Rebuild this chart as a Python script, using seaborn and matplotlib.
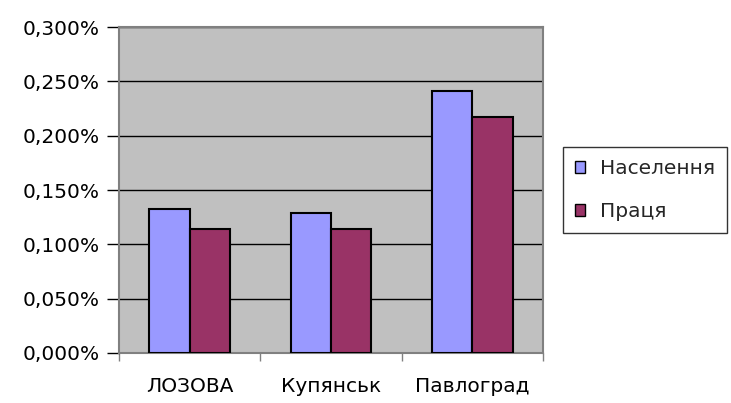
import matplotlib
matplotlib.use("Agg")
import matplotlib.pyplot as plt
import seaborn as sns
import pandas as pd
from matplotlib.ticker import FuncFormatter, FixedLocator

categories = ["ЛОЗОВА", "Купянськ", "Павлоград"]
series_names = ["Населення", "Праця"]
naselennia = [0.1322, 0.1288, 0.2408]
pratsia = [0.1138, 0.1138, 0.2169]
colors = ["#9999FF", "#993366"]

df = pd.DataFrame({
    "city": categories * 2,
    "series": [series_names[0]] * 3 + [series_names[1]] * 3,
    "value": naselennia + pratsia,
})

sns.set_style("white")
plt.rcParams["font.family"] = ["DejaVu Sans"]
FS = 14.5

fig = plt.figure(figsize=(7.31, 4.03), dpi=100)
ax = fig.add_axes([119 / 731, 1 - 353 / 403, (543 - 119) / 731, (353 - 27) / 403])
ax.set_facecolor("#C0C0C0")

sns.barplot(data=df, x="city", y="value", hue="series", palette=colors,
            saturation=1, width=2 / 3.5, edgecolor="black", linewidth=1.5,
            ax=ax, zorder=3, legend=True)

ax.set_ylim(0, 0.3)
ax.set_xlim(-0.5, 2.5)
ax.set_yticks([0, 0.05, 0.1, 0.15, 0.2, 0.25, 0.3])
ax.yaxis.set_major_formatter(FuncFormatter(lambda v, p: f"{v:.3f}%".replace(".", ",")))
ax.grid(axis="y", color="black", linewidth=1, zorder=0)
ax.set_axisbelow(True)
ax.set_xlabel("")
ax.set_ylabel("")

for s in ["top", "right", "left", "bottom"]:
    ax.spines[s].set_color("#808080")
    ax.spines[s].set_linewidth(1.5)

ax.tick_params(axis="y", which="major", direction="out", length=9, width=1,
               color="black", labelsize=FS, pad=5, left=True, labelcolor="black")
ax.tick_params(axis="x", which="major", length=0, labelsize=FS, pad=17,
               labelcolor="black")
ax.xaxis.set_minor_locator(FixedLocator([-0.5, 0.5, 1.5, 2.5]))
ax.tick_params(axis="x", which="minor", direction="out", length=6, width=1,
               color="#808080", bottom=True)

handles, labels = ax.get_legend_handles_labels()
leg = ax.legend(handles, labels, loc="upper left",
                bbox_to_anchor=(563 / 731, 1 - 147 / 403),
                bbox_transform=fig.transFigure,
                frameon=True, fancybox=False, edgecolor="black",
                fontsize=FS, handlelength=0.5, handleheight=0.5,
                handletextpad=0.75, borderpad=0.6, labelspacing=1.2,
                borderaxespad=0)
leg.get_frame().set_linewidth(1)
for p in leg.get_patches():
    p.set_edgecolor("black")
    p.set_linewidth(1)

fig.savefig("out.png", dpi=100, facecolor="white")
